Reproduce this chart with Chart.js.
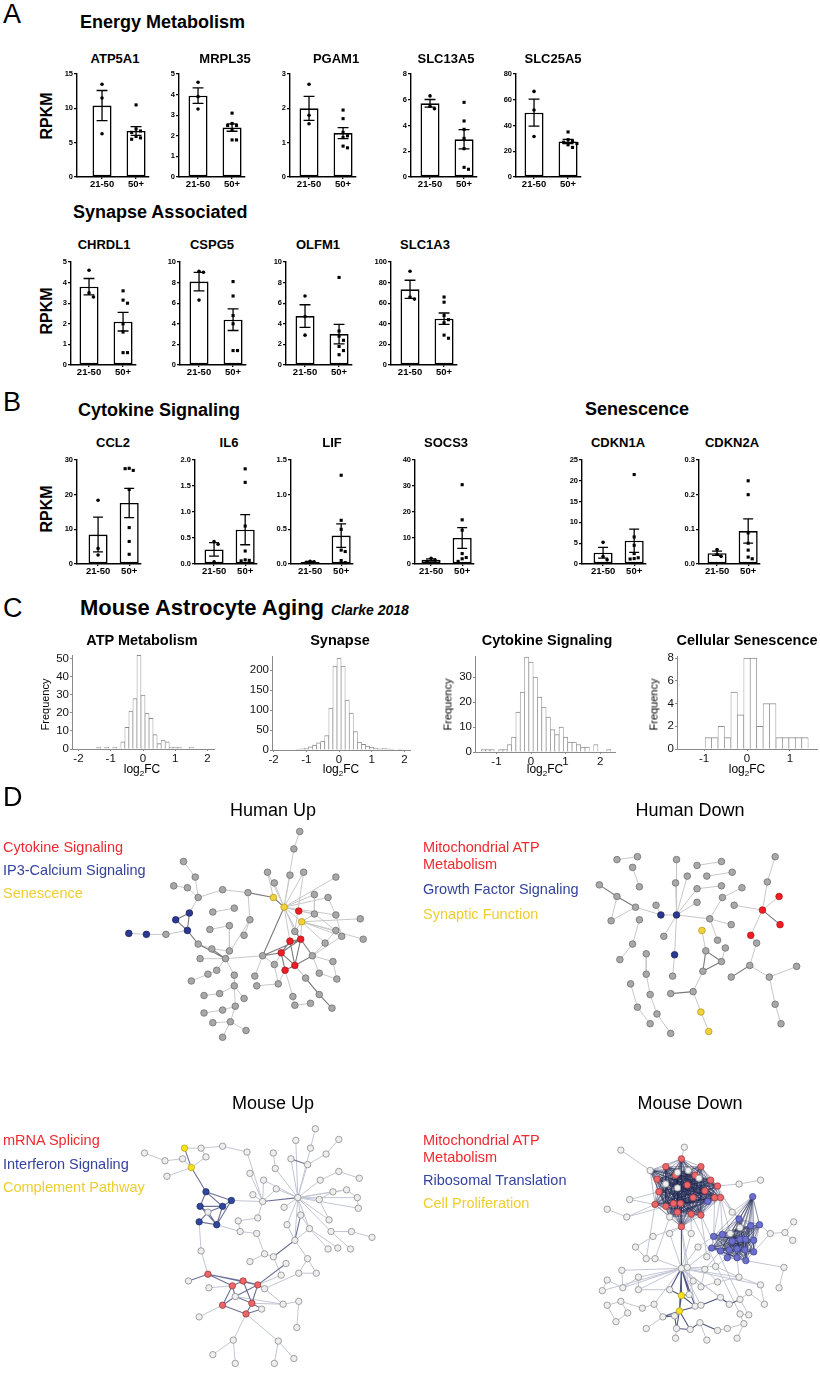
<!DOCTYPE html>
<html>
<head>
<meta charset="utf-8">
<script src="https://cdn.jsdelivr.net/npm/chart.js@4.4.1/dist/chart.umd.min.js"></script>
<style>
  body { margin: 0; background: #fff; width: 820px; height: 1374px; position: relative; overflow: hidden;
         font-family: "Liberation Sans", Arial, sans-serif; }
  canvas, .t { position: absolute; }
  .t { white-space: nowrap; line-height: 1; color: #000; }
</style>
</head>
<body>
<script>
// ---------- data: bar panels (RPKM, two age groups) ----------
const groups = ['21-50', '50+'];

const atp5a1Young = [13.5, 11.5, 6.3];
const atp5a1Old = [10.5, 7.0, 6.7, 6.5, 5.9, 5.7, 5.5];
const atp5a1Mean = [10.4, 6.7];
const atp5a1Sem = [2.2, 0.65];
const atp5a1Ticks = [0, 5, 10, 15];

const mrpl35Young = [4.6, 3.9, 3.3];
const mrpl35Old = [3.1, 2.6, 2.5, 2.5, 2.3, 1.8, 1.8];
const mrpl35Mean = [3.95, 2.4];
const mrpl35Sem = [0.38, 0.18];
const mrpl35Ticks = [0, 1, 2, 3, 4, 5];

const pgam1Young = [2.7, 1.8, 1.55];
const pgam1Old = [1.95, 1.7, 1.3, 1.2, 1.15, 0.9, 0.85];
const pgam1Mean = [2.0, 1.28];
const pgam1Sem = [0.35, 0.16];
const pgam1Ticks = [0, 1, 2, 3];

const slc13a5Young = [6.3, 5.5, 5.3];
const slc13a5Old = [5.8, 4.35, 3.7, 3.0, 2.2, 0.75, 0.6];
const slc13a5Mean = [5.72, 2.93];
const slc13a5Sem = [0.3, 0.75];
const slc13a5Ticks = [0, 2, 4, 6, 8];

const slc25a5Young = [66.5, 52, 31.5];
const slc25a5Old = [35, 29, 28, 27, 26, 25, 23];
const slc25a5Mean = [50, 27.6];
const slc25a5Sem = [10.5, 1.6];
const slc25a5Ticks = [0, 20, 40, 60, 80];

const chrdl1Young = [4.6, 3.5, 3.3];
const chrdl1Old = [3.6, 3.15, 3.0, 2.0, 1.6, 0.6, 0.6];
const chrdl1Mean = [3.8, 2.1];
const chrdl1Sem = [0.4, 0.45];
const chrdl1Ticks = [0, 1, 2, 3, 4, 5];

const cspg5Young = [9.1, 9.0, 6.3];
const cspg5Old = [8.1, 6.7, 4.8, 4.0, 1.4, 1.4];
const cspg5Mean = [8.1, 4.4];
const cspg5Sem = [0.9, 1.05];
const cspg5Ticks = [0, 2, 4, 6, 8, 10];

const olfm1Young = [6.7, 4.7, 2.9];
const olfm1Old = [8.5, 3.3, 2.8, 2.4, 1.8, 1.4, 1.0];
const olfm1Mean = [4.75, 3.0];
const olfm1Sem = [1.1, 0.95];
const olfm1Ticks = [0, 2, 4, 6, 8, 10];

const slc1a3Young = [91, 66, 64];
const slc1a3Old = [66, 61, 48, 44, 41, 29, 26];
const slc1a3Mean = [73.5, 45];
const slc1a3Sem = [8.8, 5.5];
const slc1a3Ticks = [0, 20, 40, 60, 80, 100];

const ccl2Young = [18.4, 4.5, 2.6];
const ccl2Old = [27.6, 27.0, 27.5, 21.5, 10.5, 6.5, 2.8];
const ccl2Mean = [8.5, 17.6];
const ccl2Sem = [5.0, 4.2];
const ccl2Ticks = [0, 10, 20, 30];

const il6Young = [0.43, 0.38, 0.04];
const il6Old = [1.83, 1.57, 0.73, 0.25, 0.08, 0.07, 0.06];
const il6Mean = [0.28, 0.66];
const il6Sem = [0.13, 0.29];
const il6Ticks = [0, 0.5, 1, 1.5, 2];

const lifYoung = [0.04, 0.03, 0.02];
const lifOld = [1.28, 0.63, 0.5, 0.2, 0.18, 0.05, 0.02];
const lifMean = [0.03, 0.41];
const lifSem = [0.006, 0.17];
const lifTicks = [0, 0.5, 1, 1.5];

const socs3Young = [2.2, 1.5, 1.0];
const socs3Old = [30.5, 17, 13, 4, 2.5, 2, 1];
const socs3Mean = [1.6, 10];
const socs3Sem = [0.4, 4.0];
const socs3Ticks = [0, 10, 20, 30, 40];

const cdkn1aYoung = [5.2, 1.8, 1.0];
const cdkn1aOld = [21.5, 6.5, 4.5, 2.5, 1.5, 1.3, 1.2];
const cdkn1aMean = [2.7, 5.6];
const cdkn1aSem = [1.3, 2.8];
const cdkn1aTicks = [0, 5, 10, 15, 20, 25];

const cdkn2aYoung = [0.042, 0.028, 0.022];
const cdkn2aOld = [0.24, 0.2, 0.09, 0.06, 0.04, 0.02, 0.015];
const cdkn2aMean = [0.031, 0.095];
const cdkn2aSem = [0.006, 0.035];
const cdkn2aTicks = [0, 0.1, 0.2, 0.3];

// ---------- data: histograms (log2FC bins, frequency) ----------
const atpBins = [-1.375, -1.25, -1.125, -1, -0.875, -0.75, -0.625, -0.5, -0.375, -0.25, -0.125, 0, 0.125, 0.25, 0.375, 0.5, 0.625, 0.75, 0.875, 1, 1.125, 1.25, 1.375, 1.5];
const atpCounts = [1, 0, 1, 0, 1, 0, 4, 12, 21, 28, 52, 30, 20, 17, 8, 3, 5, 4, 1, 1, 1, 0, 0, 1];
const atpXTicks = [-2, -1, 0, 1, 2];
const atpYTicks = [0, 10, 20, 30, 40, 50];

const synBins = [-2, -1.875, -1.75, -1.625, -1.5, -1.375, -1.25, -1.125, -1, -0.875, -0.75, -0.625, -0.5, -0.375, -0.25, -0.125, 0, 0.125, 0.25, 0.375, 0.5, 0.625, 0.75, 0.875, 1, 1.125, 1.25, 1.375, 1.5, 1.625, 1.75, 1.875, 2];
const synCounts = [1, 1, 1, 0, 1, 1, 2, 3, 4, 8, 12, 18, 22, 36, 105, 210, 230, 210, 125, 92, 46, 20, 14, 10, 7, 5, 3, 4, 3, 2, 1, 2, 1];
const synXTicks = [-2, -1, 0, 1, 2];
const synYTicks = [0, 50, 100, 150, 200];

const cytBins = [-1.375, -1.25, -1.125, -1, -0.875, -0.75, -0.625, -0.5, -0.375, -0.25, -0.125, 0, 0.125, 0.25, 0.375, 0.5, 0.625, 0.75, 0.875, 1, 1.125, 1.25, 1.375, 1.5, 1.625, 1.75, 1.875, 2, 2.125, 2.25];
const cytCounts = [1, 1, 1, 0, 1, 1, 3, 6, 16, 24, 38, 36, 30, 22, 18, 14, 9, 7, 10, 6, 4, 4, 3, 2, 2, 0, 3, 0, 0, 1];
const cytXTicks = [-1, 0, 1, 2];
const cytYTicks = [0, 10, 20, 30];

const senBins = [-0.9, -0.75, -0.6, -0.45, -0.3, -0.15, 0, 0.15, 0.3, 0.45, 0.6, 0.75, 0.9, 1.05, 1.2, 1.35];
const senCounts = [1, 1, 2, 1, 5, 3, 8, 8, 2, 4, 4, 1, 1, 1, 1, 1];
const senXTicks = [-1, 0, 1];
const senYTicks = [0, 2, 4, 6, 8];

// ---------- data: interaction networks, nodes [x, y, module] in layout units ----------
const huNodes = [
  [302,115,'g'],[296,133,'g'],[183,146,'g'],[269,157,'g'],[292,160,'g'],[306,157,'g'],[195,162,'g'],[339,162,'g'],
  [276,168,'g'],[173,171,'g'],[187,173,'g'],[223,175,'g'],[249,178,'g'],[317,180,'g'],[198,183,'g'],[275,183,'y'],
  [331,183,'g'],[286,193,'y'],[301,197,'r'],[213,198,'g'],[235,194,'g'],[189,199,'b'],[317,200,'g'],[339,201,'g'],
  [175,206,'b'],[251,206,'g'],[364,205,'g'],[304,208,'y'],[230,212,'g'],[210,216,'g'],[187,217,'b'],[339,217,'g'],
  [127,220,'b'],[145,221,'b'],[165,221,'g'],[245,222,'g'],[345,223,'g'],[367,226,'g'],[292,228,'r'],[303,226,'r'],
  [297,218,'g'],[198,231,'g'],[328,230,'g'],[212,236,'g'],[230,238,'g'],[283,240,'r'],[264,243,'g'],[315,243,'g'],
  [200,246,'g'],[226,246,'g'],[336,249,'g'],[276,252,'g'],[297,253,'r'],[217,258,'g'],[208,262,'g'],[287,258,'r'],
  [322,261,'g'],[191,269,'g'],[235,263,'g'],[256,264,'g'],[308,266,'g'],[340,267,'g'],[258,274,'g'],[280,272,'g'],
  [235,274,'g'],[322,283,'g'],[204,284,'g'],[220,282,'g'],[295,285,'g'],[245,287,'g'],[313,292,'g'],[297,294,'g'],
  [236,295,'g'],[335,297,'g'],[223,299,'g'],[204,302,'g'],[213,312,'g'],[231,311,'g'],[247,320,'g'],[223,327,'g']
];
const huDark = [[12,15],[15,17],[17,46],[41,49],[43,49],[38,39],[38,45],[38,52],[39,45],[39,52],[45,52],[45,55],[52,55],
  [45,46],[39,46],[47,52],[39,47],[60,65],[65,73],[39,40],[30,41],[21,24],[24,30],[21,30]];
const huLight = [[0,1],[1,17],[3,17],[4,17],[5,17],[8,17],[17,18],[17,27],[13,17],[17,22],[7,17],[16,17],[17,23],[17,38],
  [17,39],[17,40],[27,31],[27,36],[27,37],[26,27],[27,42],[22,27],[27,39],[18,22],[13,22],[22,31],[31,42],[16,23],[23,36],
  [2,6],[6,14],[9,10],[10,14],[11,14],[11,12],[14,21],[30,34],[33,34],[32,33],[41,43],[43,44],[28,44],[44,49],[48,49],
  [49,53],[25,49],[46,49],[19,20],[28,29],[25,35],[49,58],[58,64],[64,72],[64,67],[64,69],[72,74],[72,77],[77,79],[74,75],
  [66,67],[76,77],[77,78],[54,57],[53,54],[46,59],[62,63],[51,63],[46,51],[55,68],[68,71],[70,71],[47,50],[50,61],[47,56],
  [52,60],[42,47],[36,47],[3,15],[12,25],[27,40],[5,40],[38,51],[55,63],[56,61],[52,65]];

const hdNodes = [
  [207,144,'g'],[228,141,'g'],[268,144,'g'],[289,150,'g'],[314,146,'g'],[369,141,'g'],[223,152,'g'],[279,161,'g'],
  [299,161,'g'],[325,157,'g'],[230,172,'g'],[267,168,'g'],[289,174,'g'],[314,171,'g'],[335,173,'g'],[361,167,'g'],
  [189,170,'g'],[207,182,'g'],[289,188,'g'],[315,183,'g'],[373,182,'r'],[226,193,'g'],[247,191,'g'],[327,191,'g'],
  [356,196,'r'],[252,201,'b'],[268,201,'b'],[302,205,'g'],[201,207,'g'],[230,206,'g'],[324,211,'g'],[374,211,'r'],
  [294,217,'y'],[255,223,'g'],[344,222,'r'],[310,227,'g'],[350,230,'g'],[223,231,'g'],[318,235,'g'],[298,238,'g'],
  [237,241,'g'],[266,242,'b'],[314,249,'g'],[210,247,'g'],[343,253,'g'],[295,259,'g'],[391,254,'g'],[237,262,'g'],
  [264,264,'g'],[324,265,'g'],[363,265,'g'],[221,272,'g'],[285,280,'g'],[262,282,'g'],[241,283,'g'],[369,293,'g'],
  [228,296,'g'],[248,303,'g'],[293,301,'y'],[241,313,'g'],[375,313,'g'],[301,321,'y'],[262,323,'g']
];
const hdDark = [[16,17],[17,21],[39,42],[39,45],[42,45],[44,49],[52,53],[24,31]];
const hdLight = [[0,1],[6,10],[17,28],[21,28],[21,25],[22,25],[25,26],[2,26],[11,26],[7,26],[18,26],[26,27],[26,41],[26,33],
  [12,26],[27,30],[19,27],[3,4],[8,9],[12,13],[14,19],[29,37],[37,43],[20,24],[24,34],[23,24],[15,24],[5,15],[34,36],[36,44],
  [44,50],[46,50],[50,55],[55,60],[32,39],[45,52],[52,58],[58,61],[40,47],[47,54],[54,57],[57,62],[51,56],[56,59],[27,35],
  [38,42],[41,48]];

const muNodes = [
  [318,66,'g'],[298,78,'g'],[342,77,'g'],[313,86,'g'],[329,92,'g'],[184,86,'y'],[201,86,'g'],[223,84,'g'],
  [248,90,'g'],[275,91,'g'],[143,91,'g'],[164,99,'g'],[182,97,'g'],[206,95,'g'],[191,106,'y'],[293,97,'g'],
  [310,103,'g'],[277,107,'g'],[166,115,'g'],[251,112,'g'],[265,119,'g'],[323,119,'g'],[342,110,'g'],[363,117,'g'],
  [278,128,'g'],[254,134,'g'],[206,131,'b'],[232,140,'b'],[264,141,'g'],[300,137,'g'],[322,139,'g'],[336,131,'g'],
  [350,129,'g'],[361,137,'g'],[200,146,'b'],[223,146,'b'],[208,152,'g'],[286,147,'g'],[362,148,'g'],[199,162,'b'],
  [217,165,'b'],[239,161,'g'],[259,158,'g'],[303,155,'g'],[332,160,'g'],[289,165,'g'],[312,169,'g'],[241,172,'g'],
  [258,174,'g'],[334,172,'g'],[355,172,'g'],[376,178,'g'],[297,181,'g'],[331,190,'g'],[341,189,'g'],[354,190,'g'],
  [201,192,'g'],[266,195,'g'],[275,198,'g'],[251,203,'g'],[288,205,'g'],[310,200,'g'],[301,215,'g'],[319,215,'g'],
  [208,216,'r'],[283,217,'g'],[188,223,'g'],[209,230,'g'],[233,228,'r'],[244,223,'r'],[259,227,'r'],[266,231,'g'],
  [236,239,'g'],[223,248,'r'],[253,246,'r'],[263,252,'g'],[285,247,'g'],[301,244,'g'],[247,257,'r'],[199,260,'g'],
  [299,271,'g'],[234,284,'g'],[280,285,'g'],[213,299,'g'],[236,308,'g'],[276,308,'g'],[296,303,'g']
];
const muDark = [[26,34],[26,35],[26,27],[34,35],[34,36],[35,36],[35,40],[34,40],[27,35],[36,39],[39,40],[36,40],[27,40],
  [5,14],[14,26],[15,16],[64,68],[64,69],[64,70],[68,69],[69,70],[68,72],[70,72],[70,71],[70,74],[69,74],[68,73],[72,73],
  [72,74],[73,78],[74,78],[75,78],[74,75],[60,70],[52,58],[64,66],[28,29],[43,52]];
const muLight = [[0,3],[3,29],[1,29],[2,4],[4,16],[16,29],[9,17],[17,29],[15,29],[21,29],[22,23],[21,22],[29,30],[29,31],
  [29,32],[29,33],[29,38],[29,44],[29,45],[29,46],[29,49],[29,37],[24,29],[20,29],[45,52],[29,52],[52,61],[46,52],[25,28],
  [24,28],[20,28],[19,28],[8,28],[27,28],[28,42],[5,6],[6,13],[13,14],[10,11],[11,12],[12,14],[6,7],[7,8],[14,18],[40,47],
  [47,48],[48,57],[57,58],[57,59],[39,56],[56,64],[71,76],[72,76],[74,76],[76,77],[77,80],[78,82],[78,81],[82,85],[82,86],
  [81,83],[81,84],[73,79],[61,62],[61,63],[62,63],[30,44],[31,32],[33,38],[49,50],[50,51],[46,53],[46,54],[49,55],[43,46],
  [41,47],[41,42],[67,68],[65,70],[58,65],[62,71],[29,43],[30,31],[32,33]];

// Mouse Down: two dense modules (r*, b*), periphery (o*), proliferation genes (y*)
const mdRed = [
  [273,97,'r'],[257,105,'r'],[241,109,'g'],[293,105,'r'],[269,111,'g'],[280,109,'g'],[248,118,'r'],[267,114,'r'],
  [287,114,'r'],[303,119,'r'],[257,123,'g'],[279,124,'r'],[291,117,'g'],[310,125,'r'],[250,131,'r'],[269,127,'g'],
  [297,130,'r'],[307,137,'r'],[285,137,'r'],[246,144,'r'],[257,146,'r'],[265,143,'r'],[272,143,'r'],[300,141,'b'],
  [313,137,'r'],[283,154,'r'],[293,155,'r'],[269,152,'r'],[273,167,'r'],[261,157,'g']
];
const mdBlue = [
  [332,159,'b'],[353,165,'b'],[344,166,'b'],[306,177,'b'],[315,175,'b'],[325,182,'b'],[333,180,'b'],[339,180,'b'],
  [347,181,'b'],[304,189,'b'],[313,192,'b'],[322,191,'b'],[330,190,'b'],[338,191,'b'],[347,193,'b'],[320,199,'b'],
  [330,199,'b'],[339,202,'b'],[323,174,'g'],[333,168,'g'],[346,136,'b']
];
const mdOther = [
  [276,85,'g'],[211,88,'g'],[325,152,'g'],[332,123,'g'],[354,119,'g'],[220,139,'g'],[197,149,'g'],[217,157,'g'],
  [244,177,'g'],[261,174,'g'],[283,174,'g'],[364,174,'g'],[379,173,'g'],[388,162,'g'],[387,181,'g'],[226,188,'g'],
  [237,200,'g'],[246,200,'g'],[290,188,'g'],[299,198,'g'],[273,210,'g'],[279,209,'g'],[297,211,'g'],[308,208,'g'],
  [212,212,'g'],[378,209,'g'],[197,222,'g'],[213,230,'g'],[229,219,'g'],[192,233,'g'],[229,232,'g'],[261,232,'g'],
  [285,223,'g'],[293,229,'g'],[310,224,'g'],[332,219,'g'],[354,227,'g'],[373,230,'g'],[197,248,'g'],[211,244,'g'],
  [218,256,'g'],[206,265,'g'],[233,251,'g'],[245,247,'g'],[281,237,'g'],[287,249,'g'],[293,248,'g'],[313,240,'g'],
  [322,247,'g'],[333,242,'g'],[342,235,'g'],[358,247,'g'],[333,257,'g'],[342,258,'g'],[254,260,'g'],[266,259,'g'],
  [237,272,'g'],[268,272,'g'],[282,273,'g'],[292,266,'g'],[310,274,'g'],[320,272,'g'],[337,267,'g'],[267,282,'g'],
  [299,284,'g'],[330,282,'g']
];
const mdYellow = [[273,238,'y'],[271,254,'y']];
const mdDark = [['y0','y1'],['y0','o44'],['y1','o54'],['y1','o55'],['y1','o46'],['y0','o31'],['y0','o45'],['y1','o57'],
  ['y1','o58'],['o54','o55'],['o55','o57'],['o57','o58'],['o45','o46'],['o46','o47'],['o47','o48'],['o20','y0'],['o20','y1'],
  ['o20','o44'],['o20','o31'],['o20','o45'],['o58','o59'],['o48','o49'],['o59','o60'],['r28','o20']];
const mdLight = [['o0','r0'],['o1','r2'],['o3','o4'],['o3','r13'],['b20','o2'],['b20','b1'],['b20','b0'],['o2','r24'],
  ['o2','r13'],['o2','b0'],['o5','r19'],['o5','r14'],['o6','o7'],['o7','r19'],['o7','r20'],['o8','r28'],['o9','r28'],
  ['o10','r28'],['o10','r25'],['o8','o15'],['o15','o16'],['o16','o17'],['o17','o20'],['o9','o20'],['o10','o20'],['o18','o20'],
  ['o19','b9'],['b3','o18'],['b9','o21'],['o11','b1'],['o11','o12'],['o12','o13'],['o12','o14'],['o11','b14'],['o20','o21'],
  ['o20','o22'],['o20','o23'],['o20','o24'],['o20','o28'],['o20','o32'],['o20','o33'],['o20','o43'],['o20','o46'],['o20','o47'],
  ['o20','o48'],['o20','o35'],['o20','o36'],['o20','o27'],['o20','o30'],['o20','o29'],['o22','o34'],['o23','o35'],['o22','o33'],
  ['o25','o37'],['o26','o27'],['o24','o27'],['o27','o28'],['o28','o30'],['o26','o29'],['o30','o31'],['o38','o39'],['o39','o40'],
  ['o40','o41'],['o38','o41'],['o39','o42'],['o42','o43'],['o43','o54'],['o54','o56'],['o60','o61'],['o61','o62'],['o62','o52'],
  ['o52','o53'],['o53','o49'],['o49','o50'],['o50','o51'],['o57','o63'],['o59','o64'],['o62','o65'],['o36','o51'],['o33','o34'],
  ['o34','o35'],['o35','o36'],['o32','o44'],['r25','o52'],['r26','o49'],['r28','o45'],['r24','b3'],['r17','b3'],['r13','b18'],
  ['r24','b4'],['r9','b0'],['r26','o19'],['r28','o44'],['r19','o16'],['r29','o17'],['b15','o23'],['b10','o22'],['b16','o35'],
  ['o25','b17']];

// ---------- helpers ----------
Chart.defaults.animation = false;
Chart.defaults.responsive = false;
Chart.defaults.devicePixelRatio = 1;
Chart.defaults.events = [];
Chart.defaults.font.family = '"Liberation Sans", Arial, sans-serif';
Chart.defaults.color = '#000';
Chart.defaults.plugins.legend.display = false;
Chart.defaults.plugins.tooltip.enabled = false;

function makeCanvas(x, y, w, h) {
  const c = document.createElement('canvas');
  c.width = w; c.height = h;
  c.style.left = x + 'px'; c.style.top = y + 'px';
  c.style.width = w + 'px'; c.style.height = h + 'px';
  document.body.appendChild(c);
  return c;
}

function txt(s, x, cy, size, opt = {}) {
  const d = document.createElement('div');
  d.className = 't';
  d.innerHTML = s;
  d.style.fontSize = size + 'px';
  d.style.left = x + 'px';
  d.style.top = (cy - size * 0.5) + 'px';
  if (opt.bold) d.style.fontWeight = 'bold';
  if (opt.italic) d.style.fontStyle = 'italic';
  if (opt.color) d.style.color = opt.color;
  if (opt.rot) d.style.transform = 'translateX(-50%) rotate(-90deg)';
  else if (opt.center) d.style.transform = 'translateX(-50%)';
  document.body.appendChild(d);
}

// spread dots that sit at similar heights (like a column scatter)
function swarm(values, center, tol) {
  const placed = [];
  const offs = [0, 0.13, -0.13, 0.26, -0.26, 0.39, -0.39];
  return values.map(v => {
    const near = placed.filter(p => Math.abs(p.y - v) < tol);
    let off = offs.find(o => near.every(p => Math.abs(p.x - center - o) > 0.1));
    if (off === undefined) off = 0;
    const pt = { x: center + off, y: v };
    placed.push(pt);
    return pt;
  });
}

const semPlugin = {
  id: 'semBars',
  afterDatasetDraw(chart, args, opts) {
    if (args.meta.type !== 'bar') return;
    const { ctx } = chart;
    const x = chart.scales.x, y = chart.scales.y;
    ctx.save();
    ctx.strokeStyle = '#000';
    ctx.lineWidth = 1.3;
    const cap = Math.abs(x.getPixelForValue(0.16) - x.getPixelForValue(0));
    opts.mean.forEach((m, i) => {
      const px = x.getPixelForValue(i);
      const top = y.getPixelForValue(m + opts.sem[i]);
      const bot = y.getPixelForValue(Math.max(0, m - opts.sem[i]));
      ctx.beginPath();
      ctx.moveTo(px, top); ctx.lineTo(px, bot);
      ctx.moveTo(px - cap, top); ctx.lineTo(px + cap, top);
      ctx.moveTo(px - cap, bot); ctx.lineTo(px + cap, bot);
      ctx.stroke();
    });
    ctx.restore();
  }
};

function barChart(p) {
  const padL = 34, padT = 7, padR = 4, padB = 16;
  const xmin = -p.off / p.u, xmax = 1.38;
  const w = Math.round((xmax - xmin) * p.u);
  const cv = makeCanvas(p.ax - padL, p.top - padT, w + padL + padR, p.h + padT + padB);
  const ymax = p.ticks[p.ticks.length - 1];
  const tol = ymax * 0.045;
  const axisLine = { color: '#000', width: 1.4 };
  const grid = { drawOnChartArea: false, drawTicks: true, tickLength: 3, color: '#000', lineWidth: 1.3 };
  new Chart(cv, {
    type: 'bar',
    data: {
      datasets: [
        { type: 'scatter', order: 0, data: swarm(p.young, 0, tol), pointStyle: 'circle', pointRadius: 1.8,
          backgroundColor: '#000', borderWidth: 0, clip: false },
        { type: 'scatter', order: 0, data: swarm(p.old, 1, tol), pointStyle: 'rect', pointRadius: 2.2,
          backgroundColor: '#000', borderWidth: 0, clip: false },
        { type: 'bar', order: 1, data: [{ x: 0, y: p.mean[0] }, { x: 1, y: p.mean[1] }],
          backgroundColor: '#fff', borderColor: '#000', borderWidth: 1.6, borderSkipped: false,
          barPercentage: 19 / p.u, categoryPercentage: 1 }
      ]
    },
    options: {
      layout: { padding: { top: padT, right: padR, left: 0, bottom: 0 } },
      scales: {
        x: {
          type: 'linear', min: xmin, max: xmax, offset: false,
          afterFit: s => { s.height = padB; },
          afterBuildTicks: s => { s.ticks = [{ value: 0 }, { value: 1 }]; },
          ticks: { callback: v => groups[v], font: { size: 9.5, weight: 'bold' }, padding: 0, maxRotation: 0, autoSkip: false },
          grid: { ...grid, offset: false, tickLength: 2 }, border: axisLine
        },
        y: {
          type: 'linear', min: 0, max: ymax,
          afterFit: s => { s.width = padL; },
          afterBuildTicks: s => { s.ticks = p.ticks.map(v => ({ value: v })); },
          ticks: { callback: v => v.toFixed(p.dec || 0), font: { size: 7.5, weight: 'bold' }, padding: 1 },
          grid: grid, border: axisLine
        }
      },
      plugins: { semBars: { mean: p.mean, sem: p.sem } }
    },
    plugins: [semPlugin]
  });
  txt(p.gene, p.tx, p.ty, 13, { bold: true, center: true });
}

function histChart(p) {
  const padL = 30, padT = 8, padR = 8, padB = 16;
  const w = Math.round((p.xmax - p.xmin) * p.u);
  const cv = makeCanvas(p.ax - padL, p.top - padT, w + padL + padR, p.h + padT + padB);
  const axisLine = { color: '#8a8a8a', width: 1 };
  const grid = { drawOnChartArea: false, drawTicks: true, tickLength: 2, color: '#8a8a8a', lineWidth: 1 };
  new Chart(cv, {
    type: 'bar',
    data: {
      datasets: [{
        data: p.bins.map((b, i) => ({ x: b, y: p.counts[i] })),
        backgroundColor: '#fff', borderColor: '#8c8c8c',
        borderWidth: { top: 1, left: 0.7, right: 0.7, bottom: 0 },
        barPercentage: 1, categoryPercentage: 1
      }]
    },
    options: {
      layout: { padding: { top: padT, right: padR, left: 0, bottom: 0 } },
      scales: {
        x: {
          type: 'linear', min: p.xmin, max: p.xmax, offset: false,
          afterFit: s => { s.height = padB; },
          afterBuildTicks: s => { s.ticks = p.xticks.map(v => ({ value: v })); },
          ticks: { callback: v => String(v), font: { size: 11.5 }, color: '#111', padding: 1, maxRotation: 0, autoSkip: false },
          grid: { ...grid, offset: false }, border: axisLine
        },
        y: {
          type: 'linear', min: 0, max: p.ymax,
          afterFit: s => { s.width = padL; },
          afterBuildTicks: s => { s.ticks = p.yticks.map(v => ({ value: v })); },
          ticks: { callback: v => String(v), font: { size: 11.5 }, color: '#111', padding: 1 },
          grid: grid, border: axisLine
        }
      }
    }
  });
  txt(p.title, p.tx, 640, 14.5, { bold: true, center: true });
  txt('log<sub style="font-size:8px">2</sub>FC', p.lx, 769, 12, { center: true });
  if (p.fx) txt('Frequency', p.fx, 704, 11, { rot: true });
}

const netStyles = {
  human: { radius: 3.3, light: '#c8c8c8', dark: '#7a7a7a',
    fill: { g: '#a8a8a8', r: '#ee1d25', b: '#2b3990', y: '#f2d13b' },
    edge: { g: '#707070', r: '#b3151b', b: '#1c2566', y: '#b89c1f' } },
  mouse: { radius: 3.2, light: '#c2c5d4', dark: '#6a7095',
    fill: { g: '#eeeeee', r: '#ea6669', b: '#2f479c', y: '#f7e11c' },
    edge: { g: '#8c8c8c', r: '#a33a3d', b: '#1f2f6a', y: '#b9a814' } }
};

function segs(nodes, edges) {
  const out = [];
  edges.forEach(([a, b]) => {
    out.push({ x: nodes[a][0], y: nodes[a][1] }, { x: nodes[b][0], y: nodes[b][1] }, { x: NaN, y: NaN });
  });
  return out;
}

function netChart(p) {
  const st = netStyles[p.style];
  const fill = Object.assign({}, st.fill, p.fill || {});
  const edge = Object.assign({}, st.edge, p.edge || {});
  const cv = makeCanvas(p.x, p.y, p.w, p.h);
  const lineSet = (edges, color, width, order) => ({
    type: 'scatter', showLine: true, spanGaps: false, data: segs(p.nodes, edges),
    borderColor: color, borderWidth: width, pointRadius: 0, order: order, clip: false
  });
  const datasets = [lineSet(p.light, st.light, 1, 4), lineSet(p.dark, p.darkColor || st.dark, 1.1, 3)];
  if (p.dense) datasets.push(lineSet(p.dense, 'rgba(27,35,78,0.42)', 0.8, 2));
  ['g', 'r', 'b', 'y'].forEach(k => {
    const pts = p.nodes.filter(n => n[2] === k).map(n => ({ x: n[0], y: n[1] }));
    if (!pts.length) return;
    datasets.push({ type: 'scatter', data: pts, pointRadius: st.radius, backgroundColor: fill[k],
      borderColor: edge[k], borderWidth: 0.8, order: 0, clip: false });
  });
  new Chart(cv, {
    type: 'scatter',
    data: { datasets },
    options: {
      layout: { padding: 0 },
      scales: {
        x: { type: 'linear', min: 0, max: p.w, display: false },
        y: { type: 'linear', min: 0, max: p.h, reverse: true, display: false }
      }
    }
  });
}

// ---------- panel A / B ----------
txt('A', 3, 14, 27);
txt('Energy Metabolism', 80, 22, 18, { bold: true });
txt('Synapse Associated', 73, 212, 18, { bold: true });
txt('B', 3, 402, 27);
txt('Cytokine Signaling', 78, 410, 18, { bold: true });
txt('Senescence', 585, 409, 18, { bold: true });
txt('RPKM', 47, 116, 16, { bold: true, rot: true });
txt('RPKM', 47, 311, 16, { bold: true, rot: true });
txt('RPKM', 47, 509, 16, { bold: true, rot: true });

const barPanels = [
  { gene: 'ATP5A1', young: atp5a1Young, old: atp5a1Old, mean: atp5a1Mean, sem: atp5a1Sem, ticks: atp5a1Ticks, ax: 77, off: 25, tx: 115 },
  { gene: 'MRPL35', young: mrpl35Young, old: mrpl35Old, mean: mrpl35Mean, sem: mrpl35Sem, ticks: mrpl35Ticks, ax: 179, off: 19, tx: 225 },
  { gene: 'PGAM1', young: pgam1Young, old: pgam1Old, mean: pgam1Mean, sem: pgam1Sem, ticks: pgam1Ticks, ax: 290, off: 19, tx: 336 },
  { gene: 'SLC13A5', young: slc13a5Young, old: slc13a5Old, mean: slc13a5Mean, sem: slc13a5Sem, ticks: slc13a5Ticks, ax: 411, off: 19, tx: 446 },
  { gene: 'SLC25A5', young: slc25a5Young, old: slc25a5Old, mean: slc25a5Mean, sem: slc25a5Sem, ticks: slc25a5Ticks, ax: 516, off: 18, tx: 553 }
].map(p => Object.assign(p, { top: 74, h: 103, u: 34, ty: 58 }));

const synPanels = [
  { gene: 'CHRDL1', young: chrdl1Young, old: chrdl1Old, mean: chrdl1Mean, sem: chrdl1Sem, ticks: chrdl1Ticks, ax: 71, off: 18, tx: 104 },
  { gene: 'CSPG5', young: cspg5Young, old: cspg5Old, mean: cspg5Mean, sem: cspg5Sem, ticks: cspg5Ticks, ax: 180, off: 19, tx: 212 },
  { gene: 'OLFM1', young: olfm1Young, old: olfm1Old, mean: olfm1Mean, sem: olfm1Sem, ticks: olfm1Ticks, ax: 286, off: 19, tx: 318 },
  { gene: 'SLC1A3', young: slc1a3Young, old: slc1a3Old, mean: slc1a3Mean, sem: slc1a3Sem, ticks: slc1a3Ticks, ax: 391, off: 19, tx: 425 }
].map(p => Object.assign(p, { top: 262, h: 103, u: 34, ty: 244 }));

const cytoPanels = [
  { gene: 'CCL2', young: ccl2Young, old: ccl2Old, mean: ccl2Mean, sem: ccl2Sem, ticks: ccl2Ticks, ax: 77, off: 21, tx: 113 },
  { gene: 'IL6', young: il6Young, old: il6Old, mean: il6Mean, sem: il6Sem, ticks: il6Ticks, ax: 195, off: 19, tx: 229, dec: 1 },
  { gene: 'LIF', young: lifYoung, old: lifOld, mean: lifMean, sem: lifSem, ticks: lifTicks, ax: 291, off: 19, tx: 332, dec: 1 },
  { gene: 'SOCS3', young: socs3Young, old: socs3Old, mean: socs3Mean, sem: socs3Sem, ticks: socs3Ticks, ax: 415, off: 16, tx: 446 },
  { gene: 'CDKN1A', young: cdkn1aYoung, old: cdkn1aOld, mean: cdkn1aMean, sem: cdkn1aSem, ticks: cdkn1aTicks, ax: 582, off: 21, tx: 618 },
  { gene: 'CDKN2A', young: cdkn2aYoung, old: cdkn2aOld, mean: cdkn2aMean, sem: cdkn2aSem, ticks: cdkn2aTicks, ax: 699, off: 18, tx: 732, dec: 1 }
].map(p => Object.assign(p, { top: 460, h: 104, u: 31, ty: 442 }));

barPanels.concat(synPanels, cytoPanels).forEach(barChart);

// ---------- panel C ----------
txt('C', 3, 608, 27);
txt('Mouse Astrocyte Aging', 80, 608, 22, { bold: true });
txt('Clarke 2018', 331, 610, 14, { bold: true, italic: true });

[
  { title: 'ATP Metabolism', bins: atpBins, counts: atpCounts, xticks: atpXTicks, yticks: atpYTicks,
    ax: 72, xmin: -2.2, xmax: 2.2, u: 32.25, top: 655, h: 94, ymax: 52.2, tx: 142, lx: 142, fx: 45 },
  { title: 'Synapse', bins: synBins, counts: synCounts, xticks: synXTicks, yticks: synYTicks,
    ax: 272, xmin: -2.05, xmax: 2.17, u: 32.75, top: 656, h: 94, ymax: 235, tx: 340, lx: 341 },
  { title: 'Cytokine Signaling', bins: cytBins, counts: cytCounts, xticks: cytXTicks, yticks: cytYTicks,
    ax: 475, xmin: -1.62, xmax: 2.43, u: 34.5, top: 656, h: 96, ymax: 38.4, tx: 547, lx: 545, fx: 448 },
  { title: 'Cellular Senescence', bins: senBins, counts: senCounts, xticks: senXTicks, yticks: senYTicks,
    ax: 677, xmin: -1.63, xmax: 1.63, u: 43, top: 656, h: 93, ymax: 8.18, tx: 747, lx: 747, fx: 654 }
].forEach(histChart);

// ---------- panel D ----------
txt('D', 3, 797, 27);

netChart({ x: 0, y: 715, w: 410, h: 330, style: 'human', nodes: huNodes, light: huLight, dark: huDark });
netChart({ x: 410, y: 715, w: 410, h: 330, style: 'human', nodes: hdNodes, light: hdLight, dark: hdDark });
netChart({ x: 0, y: 1060, w: 410, h: 314, style: 'mouse', nodes: muNodes, light: muLight, dark: muDark });

const mdNodes = mdRed.concat(mdBlue, mdOther, mdYellow);
const mdOffset = { r: 0, b: mdRed.length, o: mdRed.length + mdBlue.length, y: mdRed.length + mdBlue.length + mdOther.length };
const mdIdx = id => mdOffset[id[0]] + Number(id.slice(1));
const mdPairs = list => list.map(([a, b]) => [mdIdx(a), mdIdx(b)]);
// the two modules are densely interconnected: link every member pair
const moduleEdges = (start, n) => {
  const e = [];
  for (let i = 0; i < n; i++) for (let j = i + 1; j < n; j++) e.push([start + i, start + j]);
  return e;
};
netChart({ x: 410, y: 1060, w: 410, h: 314, style: 'mouse', nodes: mdNodes,
  light: mdPairs(mdLight), dark: mdPairs(mdDark), darkColor: '#4d5480',
  dense: moduleEdges(mdOffset.r, mdRed.length).concat(moduleEdges(mdOffset.b, mdBlue.length)),
  fill: { b: '#6d6fcc' }, edge: { b: '#45479a' } });

// titles and module legends
txt('Human Up', 273, 810, 18, { center: true });
txt('Human Down', 690, 810, 18, { center: true });
txt('Mouse Up', 273, 1103, 18, { center: true });
txt('Mouse Down', 690, 1103, 18, { center: true });

txt('Cytokine Signaling', 3, 847, 14.5, { color: '#ee2a30' });
txt('IP3-Calcium Signaling', 3, 870, 14.5, { color: '#3443a0' });
txt('Senescence', 3, 893, 14.5, { color: '#efcd2e' });

txt('Mitochondrial ATP', 423, 847, 14.5, { color: '#ee2a30' });
txt('Metabolism', 423, 864, 14.5, { color: '#ee2a30' });
txt('Growth Factor Signaling', 423, 889, 14.5, { color: '#3443a0' });
txt('Synaptic Function', 423, 914, 14.5, { color: '#efcd2e' });

txt('mRNA Splicing', 3, 1140, 14.5, { color: '#ee2a30' });
txt('Interferon Signaling', 3, 1164, 14.5, { color: '#3443a0' });
txt('Complement Pathway', 3, 1187, 14.5, { color: '#efcd2e' });

txt('Mitochondrial ATP', 423, 1140, 14.5, { color: '#ee2a30' });
txt('Metabolism', 423, 1157, 14.5, { color: '#ee2a30' });
txt('Ribosomal Translation', 423, 1180, 14.5, { color: '#3443a0' });
txt('Cell Proliferation', 423, 1203, 14.5, { color: '#efcd2e' });
</script>
</body>
</html>
